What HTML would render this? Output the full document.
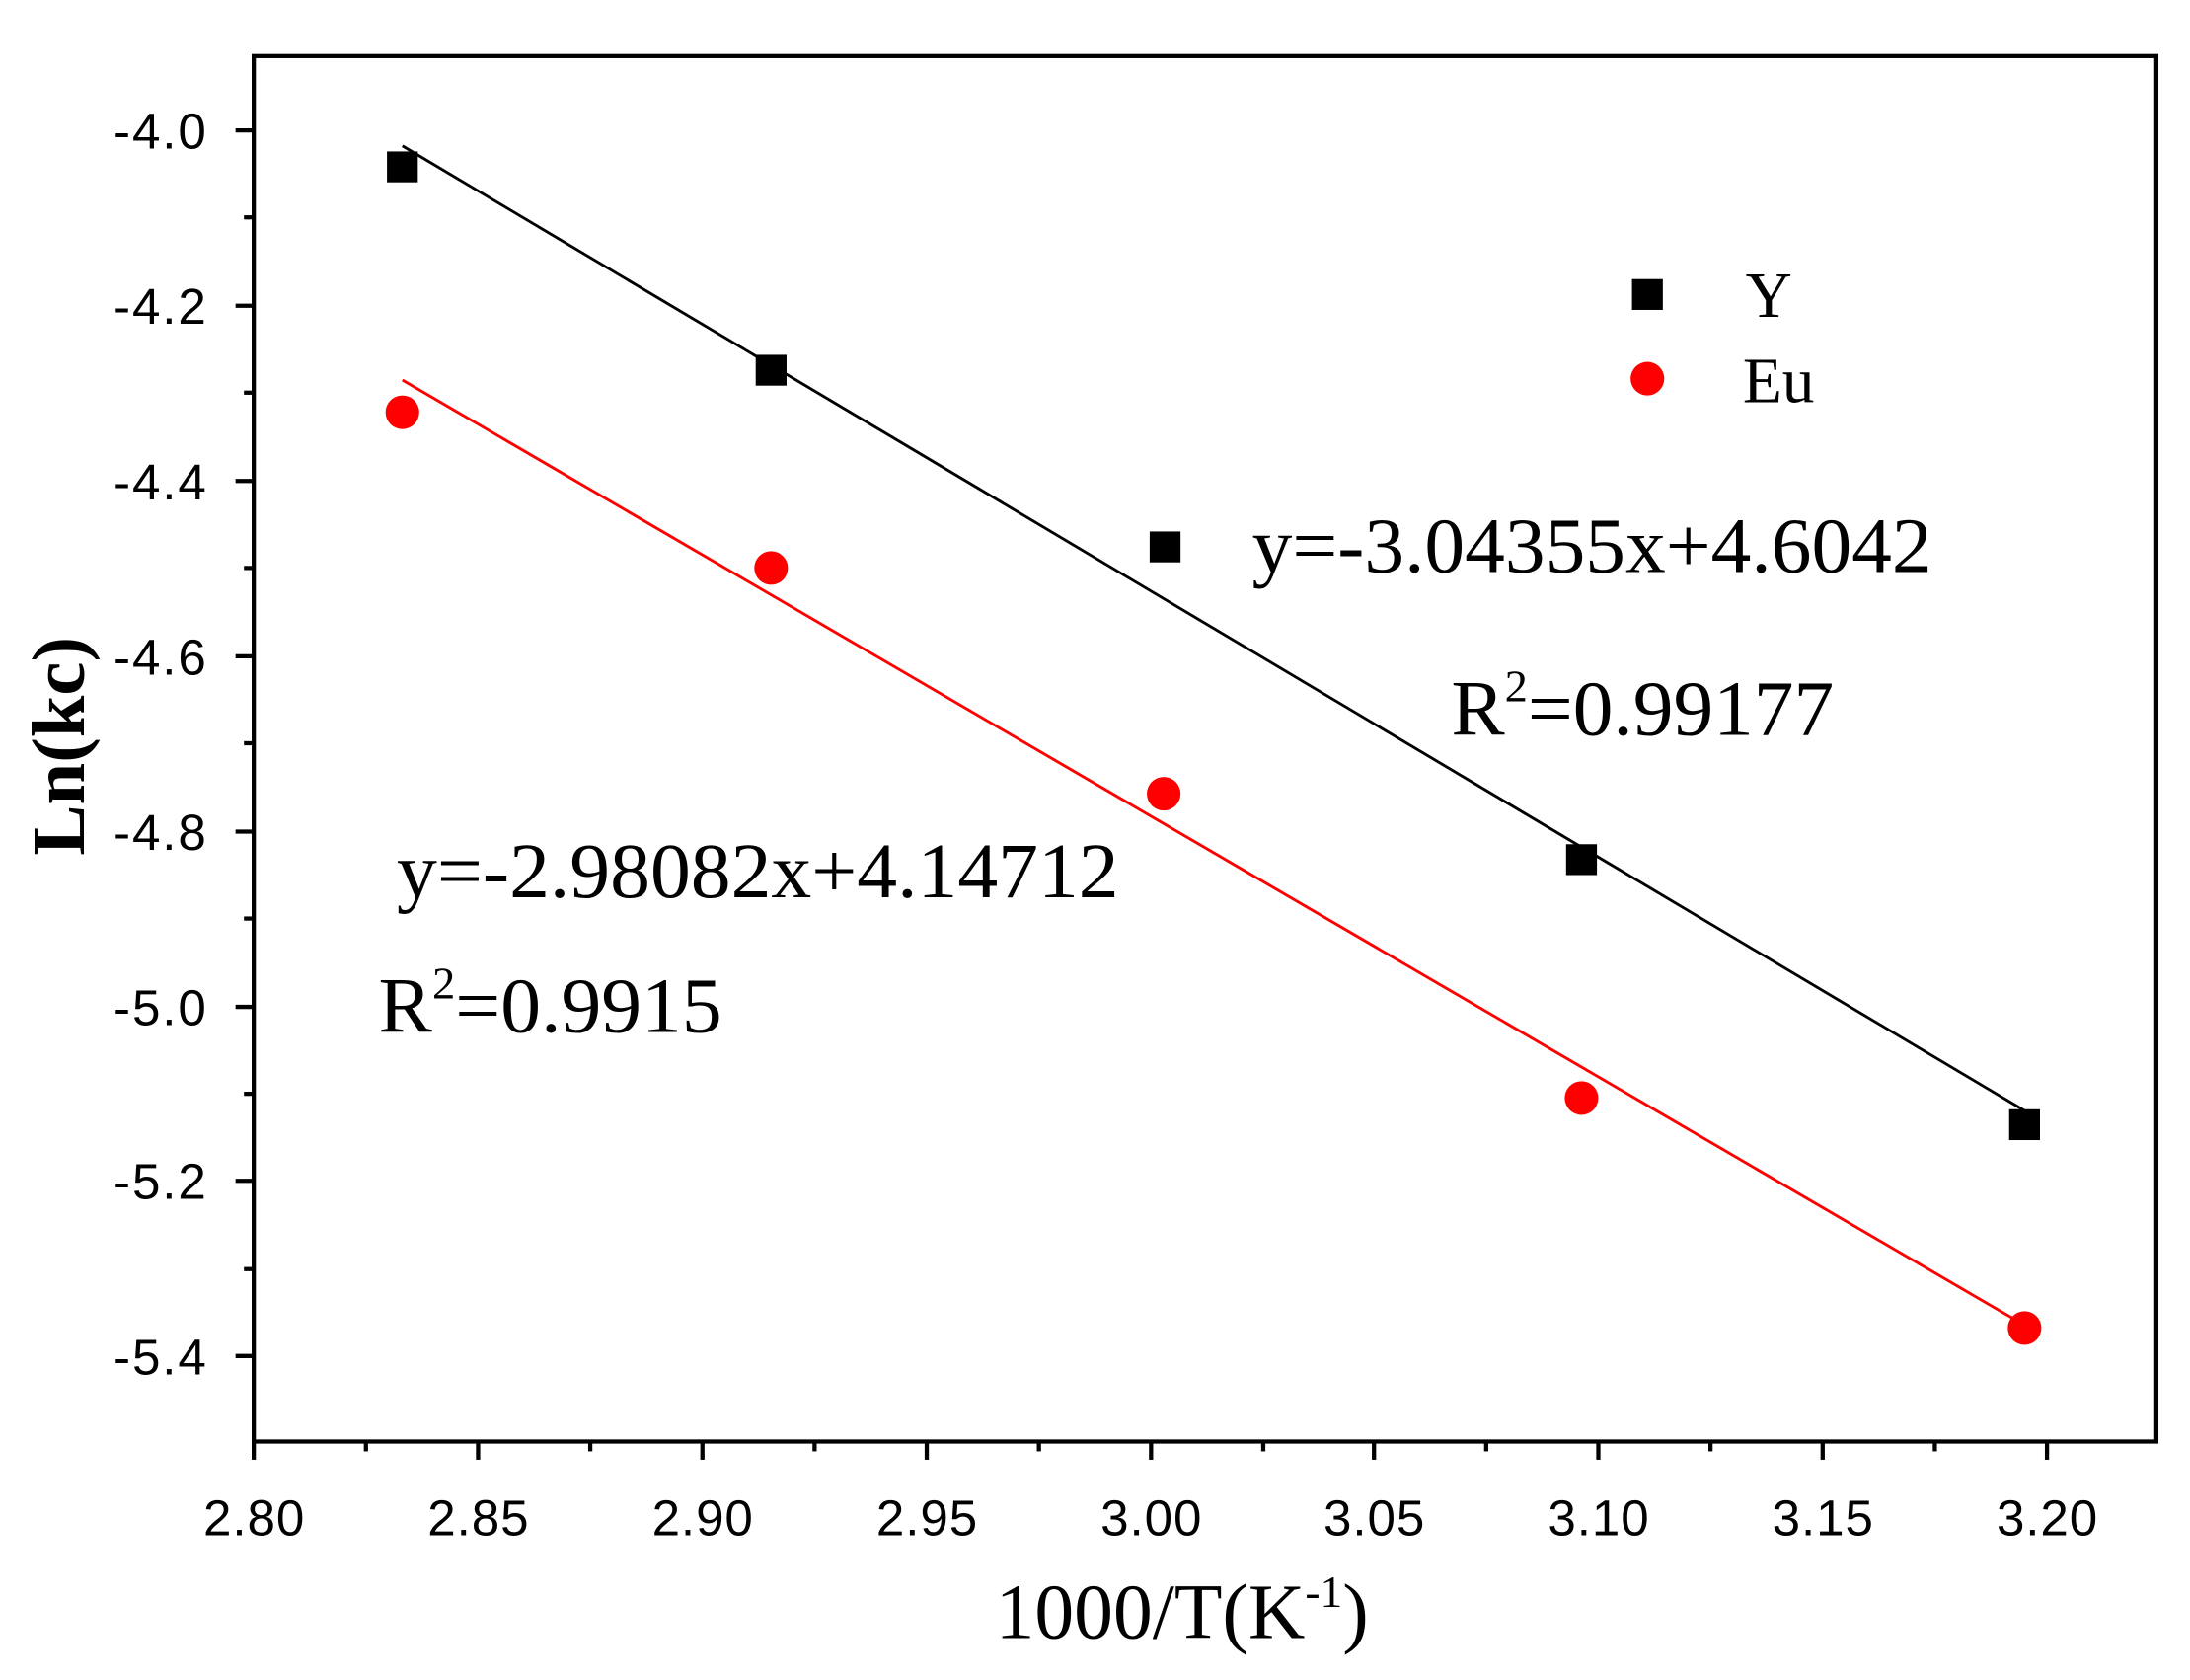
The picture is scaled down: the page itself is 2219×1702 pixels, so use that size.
<!DOCTYPE html>
<html><head><meta charset="utf-8"><style>html,body{margin:0;padding:0;background:#fff}svg{display:block}</style></head>
<body>
<svg width="2219" height="1702" viewBox="0 0 1562 1198" preserveAspectRatio="none" xmlns="http://www.w3.org/2000/svg">
<rect width="1562" height="1198" fill="#fff"/>
<rect x="181" y="40" width="1357" height="988" fill="none" stroke="#000" stroke-width="3"/>
<g stroke="#000" stroke-width="3">
<line x1="181" y1="1028" x2="181" y2="1041"/><line x1="261" y1="1028" x2="261" y2="1035"/>
<line x1="341" y1="1028" x2="341" y2="1041"/><line x1="421" y1="1028" x2="421" y2="1035"/>
<line x1="501" y1="1028" x2="501" y2="1041"/><line x1="581" y1="1028" x2="581" y2="1035"/>
<line x1="661" y1="1028" x2="661" y2="1041"/><line x1="741" y1="1028" x2="741" y2="1035"/>
<line x1="821" y1="1028" x2="821" y2="1041"/><line x1="901" y1="1028" x2="901" y2="1035"/>
<line x1="980" y1="1028" x2="980" y2="1041"/><line x1="1060" y1="1028" x2="1060" y2="1035"/>
<line x1="1140" y1="1028" x2="1140" y2="1041"/><line x1="1220" y1="1028" x2="1220" y2="1035"/>
<line x1="1300" y1="1028" x2="1300" y2="1041"/><line x1="1380" y1="1028" x2="1380" y2="1035"/>
<line x1="1460" y1="1028" x2="1460" y2="1041"/>
<line x1="168" y1="93" x2="181" y2="93"/><line x1="174" y1="155" x2="181" y2="155"/>
<line x1="168" y1="218" x2="181" y2="218"/><line x1="174" y1="280" x2="181" y2="280"/>
<line x1="168" y1="343" x2="181" y2="343"/><line x1="174" y1="405" x2="181" y2="405"/>
<line x1="168" y1="468" x2="181" y2="468"/><line x1="174" y1="530" x2="181" y2="530"/>
<line x1="168" y1="593" x2="181" y2="593"/><line x1="174" y1="655" x2="181" y2="655"/>
<line x1="168" y1="718" x2="181" y2="718"/><line x1="174" y1="780" x2="181" y2="780"/>
<line x1="168" y1="842" x2="181" y2="842"/><line x1="174" y1="905" x2="181" y2="905"/>
<line x1="168" y1="967" x2="181" y2="967"/>
</g>
<g font-family="Liberation Sans, sans-serif" font-size="36" fill="#000" text-anchor="middle" lengthAdjust="spacingAndGlyphs">
<text x="181" y="1095" textLength="72">2.80</text><text x="341" y="1095" textLength="72">2.85</text><text x="501" y="1095" textLength="72">2.90</text>
<text x="661" y="1095" textLength="72">2.95</text><text x="821" y="1095" textLength="72">3.00</text><text x="980" y="1095" textLength="72">3.05</text>
<text x="1140" y="1095" textLength="72">3.10</text><text x="1300" y="1095" textLength="72">3.15</text><text x="1460" y="1095" textLength="72">3.20</text>
</g>
<g font-family="Liberation Sans, sans-serif" font-size="36" fill="#000" text-anchor="end">
<text x="147" y="106" textLength="66">-4.0</text><text x="147" y="231" textLength="66">-4.2</text><text x="147" y="356" textLength="66">-4.4</text>
<text x="147" y="481" textLength="66">-4.6</text><text x="147" y="606" textLength="66">-4.8</text><text x="147" y="731" textLength="66">-5.0</text>
<text x="147" y="855" textLength="66">-5.2</text><text x="147" y="980" textLength="66">-5.4</text>
</g>
<text x="710" y="1168" font-family="Liberation Serif, serif" font-size="56">1000/T(K<tspan dy="-22" font-size="32">-1</tspan><tspan dy="22">)</tspan></text>
<text transform="translate(60,532) rotate(-90)" font-family="Liberation Serif, serif" font-size="54" font-weight="bold" text-anchor="middle">Ln(kc)</text>
<line x1="287" y1="104" x2="1444" y2="792" stroke="#000" stroke-width="2"/>
<line x1="287" y1="271" x2="1444" y2="945" stroke="#f00" stroke-width="2"/>
<g fill="#000">
<rect x="276" y="108" width="22" height="22"/><rect x="539" y="253" width="22" height="22"/>
<rect x="820" y="379" width="22" height="22"/><rect x="1117" y="602" width="22" height="22"/>
<rect x="1433" y="791" width="22" height="22"/><rect x="1164" y="199" width="22" height="22"/>
</g>
<g fill="#f00">
<circle cx="287" cy="294" r="12"/><circle cx="550" cy="405" r="12"/><circle cx="830" cy="566" r="12"/>
<circle cx="1128" cy="783" r="12"/><circle cx="1444" cy="947" r="12"/><circle cx="1175" cy="270" r="12"/>
</g>
<g font-family="Liberation Serif, serif" font-size="46" fill="#000">
<text x="1245" y="226">Y</text><text x="1243" y="287">Eu</text>
</g>
<g font-family="Liberation Serif, serif" font-size="56" fill="#000">
<text x="893" y="408" textLength="485" lengthAdjust="spacingAndGlyphs">y=-3.04355x+4.6042</text>
<text x="1035" y="524" textLength="273" lengthAdjust="spacingAndGlyphs">R<tspan dy="-24" font-size="32">2</tspan><tspan dy="24">=0.99177</tspan></text>
<text x="283" y="640" textLength="515" lengthAdjust="spacingAndGlyphs">y=-2.98082x+4.14712</text>
<text x="270" y="736" textLength="245" lengthAdjust="spacingAndGlyphs">R<tspan dy="-24" font-size="32">2</tspan><tspan dy="24">=0.9915</tspan></text>
</g>
</svg>
</body></html>
